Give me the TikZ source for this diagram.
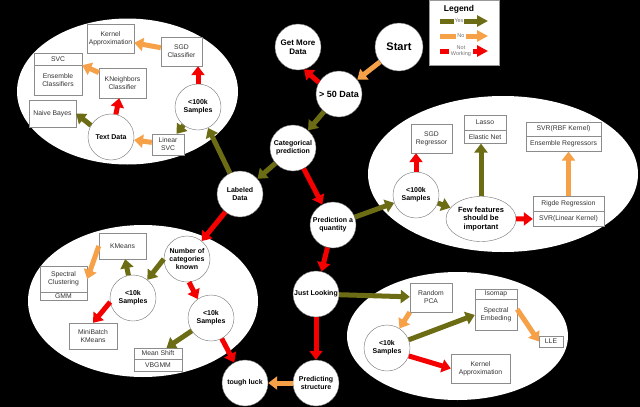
\documentclass[tikz,border=0pt]{standalone}
\usepackage{fontspec}
\setmainfont{Liberation Sans}
\usetikzlibrary{arrows.meta}
\usetikzlibrary{shapes.geometric}
\usetikzlibrary{positioning}
\definecolor{yescol}{RGB}{108,108,20}
\definecolor{nocol}{RGB}{246,160,72}
\definecolor{badcol}{RGB}{245,0,0}
\newcommand{\twobox}[8] % top name, bottom name, top centre, width, top height, bottom height, top text, bottom text
{
	% upper part
	\node[algo, minimum width=#4, minimum height=#5] (#1) at (#3) {#7};
	% lower part, hung under the upper one
	\node[algo, minimum width=#4, minimum height=#6, below=0pt of #1] (#2) {#8};
}

\begin{document}
\begin{tikzpicture}[x=1pt, y=-1pt,
	decision/.style={circle, draw=black!55, fill=white, minimum size=46pt, inner sep=0pt, align=center, font=\fontsize{7}{8}\selectfont\bfseries},
	algo/.style={rectangle, draw=black!45, fill=white, inner sep=1pt, align=center, text=black!80, font=\fontsize{6.8}{8}\selectfont},
	arr/.style={line width=5pt, -{Triangle[length=9pt,width=13pt]}},
	yesarr/.style={arr, draw=yescol},
	noarr/.style={arr, draw=nocol},
	badarr/.style={arr, draw=badcol},
	legtext/.style={fill=white, inner sep=1pt, align=center, text=black!55, font=\fontsize{5.5}{6}\selectfont}]
	% 640 x 407, one unit is one pixel, y runs down
	\useasboundingbox (0,0) rectangle (640,407);
	\fill[black] (0,0) rectangle (640,407);
	
	% groups
	\fill[white] (127.5,91.5) ellipse [x radius=110.5pt, y radius=73pt];
	\fill[white] (503,174) ellipse [x radius=135pt, y radius=78pt];
	\fill[white] (143,301) ellipse [x radius=115pt, y radius=76pt];
	\fill[white] (457.5,336) ellipse [x radius=110.5pt, y radius=64pt];
	
	% legend
	\node[draw=black!40, fill=white, minimum width=70pt, minimum height=65pt, inner sep=0pt] (legend) at (464,32.5) {};
	\node[font=\fontsize{8.5}{9}\selectfont\bfseries] (legtitle) at (459,9) {Legend};
	\coordinate (yesa) at (440,21);
	\coordinate (yesb) at (488,21);
	\coordinate (noa) at (440,36);
	\coordinate (nob) at (488,36);
	\coordinate (bada) at (440,51);
	\coordinate (badb) at (488,51);
	\draw[yesarr, line width=5pt, -{Triangle[length=11pt,width=11pt]}] (yesa) -- (yesb);
	\draw[noarr, line width=5pt, -{Triangle[length=11pt,width=11pt]}] (noa) -- (nob);
	\draw[badarr, line width=5pt, -{Triangle[length=11pt,width=11pt]}] (bada) -- (badb);
	\node[legtext] (legyes) at (459,21) {Yes};
	\node[legtext] (legno) at (461,36) {No};
	\node[legtext, inner xsep=2pt] (legbad) at (461,51) {Not\\Working};
	
	% classification
	\node[algo, minimum width=47pt, minimum height=29pt] (kapp1) at (110.5,38.5) {Kernel\\Approximation};
	\node[algo, minimum width=41pt, minimum height=29pt] (sgdc) at (181.5,51.5) {SGD\\Classifier};
	\twobox{svc}{ens}{58,59}{48pt}{12pt}{30pt}{SVC}{Ensemble\\Classifiers};
	\node[algo, minimum width=47pt, minimum height=30pt] (knn) at (122.5,83) {KNeighbors\\Classifier};
	\node[algo, minimum width=47pt, minimum height=27pt] (nb) at (52.5,113.5) {Naive Bayes};
	\node[algo, minimum width=32pt, minimum height=21pt] (lsvc) at (168,144.5) {Linear\\SVC};
	\node[decision] (text) at (111,137) {Text Data};
	\node[decision] (s100c) at (198,107) {<100k\\Samples};
	
	% main path
	\node[decision, minimum size=48pt, font=\fontsize{11}{12}\selectfont\bfseries] (start) at (399,47) {Start};
	\node[decision, font=\fontsize{8}{9}\selectfont\bfseries] (more) at (298,47) {Get More\\Data};
	\node[decision, font=\fontsize{9}{10}\selectfont\bfseries] (fifty) at (339,94) {> 50 Data};
	\node[decision] (cat) at (293,148) {Categorical\\prediction};
	\node[decision] (lab) at (240,194) {Labeled\\Data};
	\node[decision] (pred) at (333,225) {Prediction a\\quantity};
	\node[decision] (look) at (316,294) {Just Looking};
	\node[decision] (struct) at (316,383) {Predicting\\structure};
	\node[decision] (tough) at (245,383) {tough luck};
	
	% regression
	\node[decision] (s100r) at (416,195) {<100k\\Samples};
	\node[algo, minimum width=41pt, minimum height=29pt] (sgdr) at (431.5,138.5) {SGD\\Regressor};
	\twobox{lasso}{enet}{485,122.5}{42pt}{15pt}{13pt}{Lasso}{Elastic Net};
	\twobox{svrrbf}{ensr}{563.5,129}{75pt}{14pt}{15pt}{SVR(RBF Kernel)}{Ensemble Regressors};
	\node[decision, ellipse, minimum width=70pt, minimum height=45pt, font=\fontsize{7.5}{8.5}\selectfont\bfseries] (few) at (481,219) {Few features\\should be\\important};
	\twobox{ridge}{svrlin}{568.5,203.5}{71pt}{15pt}{15pt}{Rigde Regression}{SVR(Linear Kernel)};
	
	% clustering
	\node[algo, minimum width=47pt, minimum height=26pt] (kmeans) at (122.5,246) {KMeans};
	\twobox{spec}{gmm}{63.5,279}{47pt}{26pt}{8pt}{Spectral\\Clustering}{GMM};
	\node[decision] (s10a) at (133,298) {<10k\\Samples};
	\node[decision] (ncat) at (187,259) {Number of\\categories\\known};
	\node[decision] (s10b) at (211,318) {<10k\\Samples};
	\node[algo, minimum width=48pt, minimum height=26pt] (mbk) at (93,336) {MiniBatch\\KMeans};
	\twobox{mshift}{vbgmm}{158,353.5}{48pt}{11pt}{12pt}{Mean Shift}{VBGMM};
	
	% dimensionality reduction
	\node[algo, minimum width=42pt, minimum height=29pt] (rpca) at (431,297.5) {Random\\PCA};
	\twobox{isomap}{spemb}{496,294}{42pt}{10pt}{31pt}{Isomap}{Spectral\\Embeding};
	\node[algo, minimum width=24pt, minimum height=11pt] (lle) at (551,341.5) {LLE};
	\node[decision] (s10c) at (387,348) {<10k\\Samples};
	\node[algo, minimum width=59pt, minimum height=29pt] (kapp2) at (480.5,368.5) {Kernel\\Approximation};
	
	% main path arrows
	\draw[noarr] (start) -- (fifty);
	\draw[badarr] (fifty.150) -- (more.-75);
	\draw[yesarr] (fifty) -- (cat);
	\draw[yesarr] (cat) -- (lab);
	\draw[badarr] (cat) -- (pred);
	\draw[yesarr] (lab) -- (s100c);
	\draw[badarr] (lab) -- (ncat);
	\draw[yesarr] (pred) -- (s100r);
	\draw[badarr] (pred) -- (look);
	\draw[yesarr] (look) -- (rpca);
	\draw[badarr] (look) -- (struct);
	\draw[noarr] (struct) -- (tough);
	
	% classification arrows
	\draw[badarr] (s100c.north) -- (s100c.north |- sgdc.south);
	\draw[yesarr] (s100c) -- (lsvc);
	\draw[noarr] (sgdc) -- (kapp1);
	\draw[noarr] (lsvc) -- (text);
	\draw[yesarr] (text.150) -- (nb.east);
	\draw[badarr] (text) -- (knn);
	\draw[noarr] (knn) -- (svc.south east);
	
	% regression arrows
	\draw[badarr] (s100r.north) -- (s100r.north |- sgdr.south);
	\draw[yesarr] (s100r) -- (few);
	\draw[yesarr] (few.north) -- (few.north |- enet.south);
	\draw[badarr] (few) -- (svrlin);
	\draw[noarr] (ridge.north) -- (ridge.north |- ensr.south);
	
	% clustering arrows
	\draw[yesarr] (ncat.west) -- (s10a);
	\draw[badarr] (ncat.-85) -- (s10b.125);
	\draw[yesarr] (s10a) -- (kmeans);
	\draw[badarr] (s10a.190) -- (mbk.north);
	\draw[noarr] (kmeans.west) -- (spec.east);
	\draw[yesarr] (s10b) -- (mshift);
	\draw[badarr] (s10b) -- (tough);
	
	% dimensionality reduction arrows
	\draw[noarr] (rpca.south west) -- (s10c);
	\draw[yesarr] (s10c) -- (spemb.west);
	\draw[badarr] (s10c.-20) -- (kapp2.west);
	\draw[noarr] (spemb.15) -- (lle.west);
\end{tikzpicture}
\end{document}
